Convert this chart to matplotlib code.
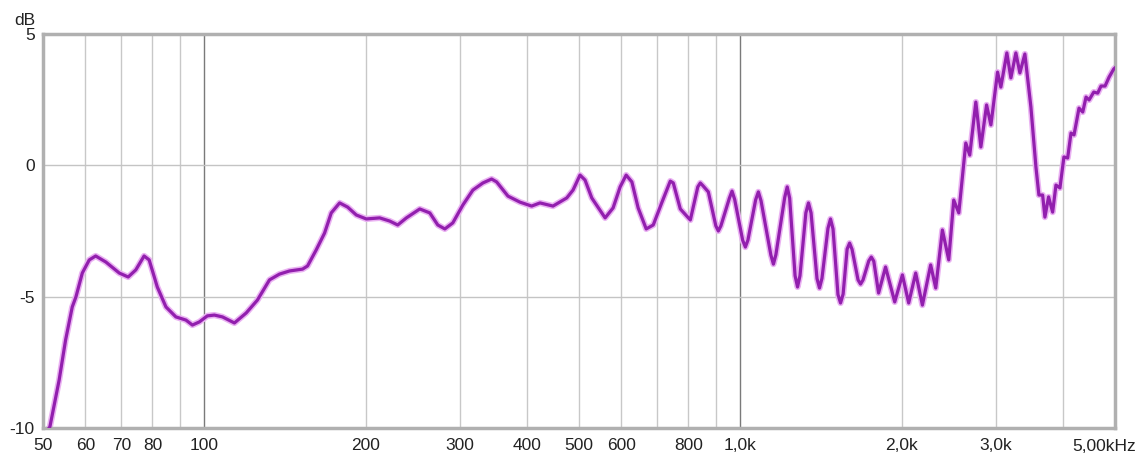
import matplotlib
matplotlib.use("Agg")
import matplotlib.pyplot as plt

# -----------------------------
# Data
# -----------------------------
freq_hz = [50, 51.5, 53.6, 55.1, 56.7, 57.6, 59.2, 61.0, 62.7, 65.5, 69.4, 72.1, 74.5,
           77.2, 78.9, 81.7, 84.8, 88.5, 92.4, 95.0, 97.9, 101.3, 104.4, 108.1, 113.8,
           119.7, 125.6, 132.3, 138.1, 144.2, 152.5, 155.8, 161.7, 167.6, 172.5, 178.8,
           185.1, 192.1, 200.5, 212.4, 221.7, 229.5, 238.2, 252.3, 263.4, 272.6, 281.0,
           290.8, 303.6, 317.0, 330.9, 343.5, 351.0, 368.5, 388.0, 408.0, 422.9, 447.2,
           474.4, 487.4, 502.2, 513.2, 528.2, 559.4, 578.9, 596.7, 612.3, 627.5, 644.7,
           667.4, 687.9, 714.2, 740.1, 749.7, 772.7, 806.6, 833, 842.0, 852, 871.5,
           900, 909.7, 920, 954, 964.9, 976, 1010, 1021.8, 1033, 1068, 1080.5, 1093,
           1140, 1152.7, 1165, 1210, 1223.0, 1236, 1265, 1278.5, 1292, 1325, 1340, 1355,
           1390, 1405, 1420, 1457, 1473, 1489, 1521, 1538, 1555, 1582, 1599, 1616,
           1658, 1676, 1694, 1736, 1755, 1774, 1811, 1866, 1941, 2006, 2061, 2124, 2186,
           2265, 2315, 2382, 2448, 2501,
           2556, 2634, 2679, 2750, 2810, 2880, 2934, 3019, 3062, 3142, 3197, 3266, 3323,
           3395, 3484, 3560, 3606, 3664, 3700, 3759, 3825, 3880, 3947, 4015, 4080, 4139,
           4193, 4284, 4353, 4415, 4473, 4564, 4642, 4709, 4791, 4875, 4974, 5000]
level_db = [-10.3, -9.96, -8.17, -6.65, -5.39, -5.01, -4.10, -3.60, -3.45, -3.68, -4.10,
            -4.25, -3.98, -3.45, -3.60, -4.63, -5.39, -5.77, -5.89, -6.08, -5.96, -5.73,
            -5.70, -5.77, -6.00, -5.62, -5.13, -4.36, -4.14, -4.02, -3.95, -3.83, -3.22,
            -2.58, -1.81, -1.43, -1.59, -1.89, -2.04, -2.00, -2.12, -2.27, -2.00, -1.66,
            -1.81, -2.27, -2.42, -2.19, -1.51, -0.94, -0.67, -0.52, -0.63, -1.17, -1.40,
            -1.55, -1.43, -1.55, -1.24, -0.94, -0.37, -0.56, -1.24, -2.00, -1.62, -0.82,
            -0.37, -0.63, -1.62, -2.42, -2.27, -1.40, -0.60, -0.67, -1.66, -2.08, -0.82,
            -0.67, -0.78, -1.01, -2.30, -2.50, -2.30, -1.25, -0.98, -1.30, -2.85, -3.11,
            -2.85, -1.31, -1.01, -1.35, -3.41, -3.76, -3.40, -1.22, -0.82, -1.25, -4.20,
            -4.63, -4.20, -1.81, -1.43, -1.81, -4.31, -4.67, -4.30, -2.40, -2.04, -2.42,
            -4.92, -5.24, -4.90, -3.19, -2.96, -3.20, -4.36, -4.52, -4.36, -3.64, -3.49,
            -3.65, -4.86, -3.87, -5.20, -4.17, -5.24, -4.10, -5.32,
            -3.79, -4.67, -2.46, -3.60, -1.32, -1.81, 0.85, 0.39, 2.41, 0.70, 2.30, 1.54,
            3.55, 2.98, 4.28, 3.33, 4.28, 3.52, 4.24, 2.22, -0.06, -1.13, -1.13, -1.97,
            -1.20, -1.78, -0.75, -0.86, 0.32, 0.28, 1.23, 1.16, 2.18, 2.03, 2.60, 2.49,
            2.79, 2.75, 3.02, 3.02, 3.36, 3.67, 3.71]

xtick_vals = [50, 60, 70, 80, 100, 200, 300, 400, 500, 600, 800, 1000, 2000, 3000]
xtick_labels = ['50', '60', '70', '80', '100', '200', '300', '400', '500', '600', '800',
                '1,0k', '2,0k', '3,0k']
xgrid_minor = [60, 70, 80, 90, 200, 300, 400, 500, 600, 700, 800, 900, 2000, 3000, 4000]
xgrid_decade = [100, 1000]
ytick_vals = [5, 0, -5, -10]
ytick_labels = ['5', '0', '-5', '-10']

# -----------------------------
# Plotting
# -----------------------------
plt.rcParams['font.family'] = ['Liberation Sans', 'DejaVu Sans']
fig = plt.figure(figsize=(11.43, 4.55), dpi=100)
ax = fig.add_axes([0.0376, 0.0593, 0.9379, 0.8659])

ax.set_xscale('log')
ax.set_xlim(50, 5000)
ax.set_ylim(-10, 5)

# grid
for f in xgrid_minor:
    ax.axvline(f, color='#c8c8c8', lw=1.0, zorder=1)
for f in xgrid_decade:
    ax.axvline(f, color='#7a7a7a', lw=1.0, zorder=1)
for v in [0, -5]:
    ax.axhline(v, color='#c4c4c4', lw=1.0, zorder=1)

# curve with a light glow under it
ax.plot(freq_hz, level_db, color='#eab2f2', lw=4.5, solid_joinstyle='round', zorder=2)
ax.plot(freq_hz, level_db, color='#921fae', lw=2.3, solid_joinstyle='round', zorder=3)

# ticks
ax.set_xticks(xtick_vals)
ax.set_xticklabels(xtick_labels)
ax.xaxis.set_minor_locator(matplotlib.ticker.NullLocator())
ax.set_yticks(ytick_vals)
ax.set_yticklabels(ytick_labels)
ax.tick_params(axis='both', length=0, labelsize=12.5, colors='#222222')
ax.tick_params(axis='x', pad=7.5)
ax.tick_params(axis='y', pad=6)

ax.annotate('5,00kHz', xy=(5000, 0), xycoords=('data', 'axes fraction'),
            xytext=(-11, -18), textcoords='offset pixels', ha='center', va='center',
            fontsize=12.5, color='#222222')
ax.annotate('dB', xy=(0, 1), xycoords='axes fraction', xytext=(-18, 14),
            textcoords='offset pixels', ha='center', va='center',
            fontsize=12.5, color='#222222')

for s in ax.spines.values():
    s.set_color('#b0b0b0')
    s.set_linewidth(2.5)

fig.savefig('out.png', dpi=100, facecolor='white')
